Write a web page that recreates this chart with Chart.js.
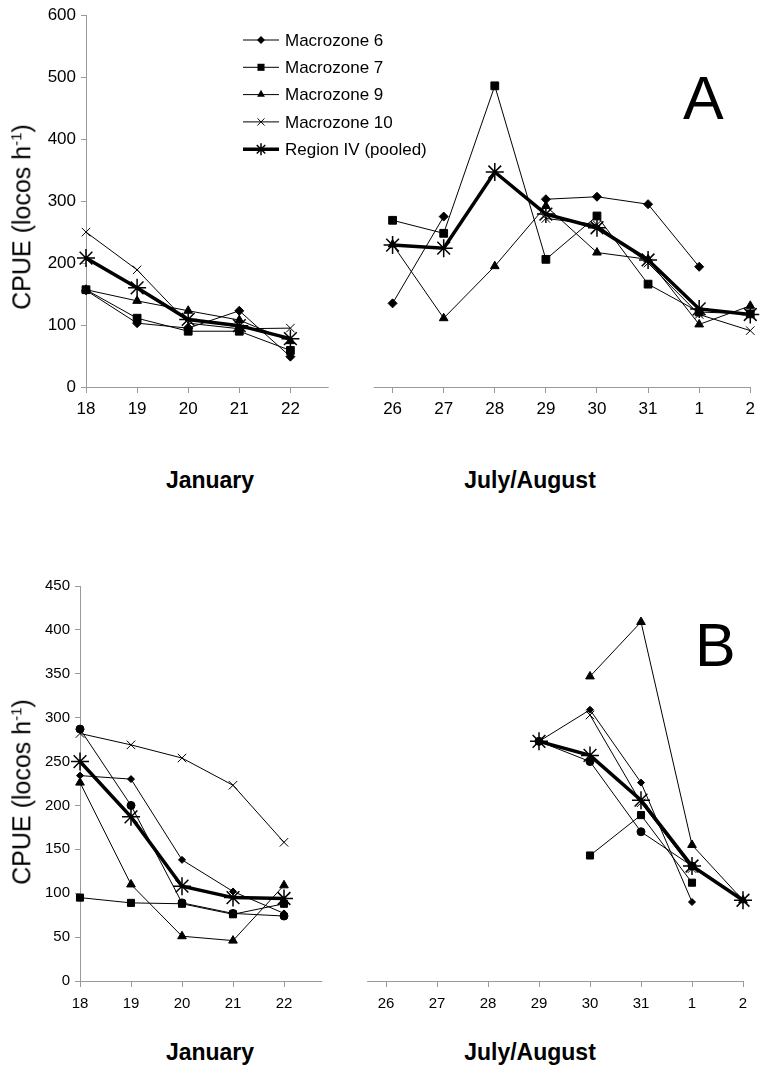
<!DOCTYPE html>
<html>
<head>
<meta charset="utf-8">
<script src="https://cdn.jsdelivr.net/npm/chart.js@4/dist/chart.umd.min.js"></script>
<style>
body { margin:0; background:#fff; width:761px; height:1081px; position:relative; overflow:hidden; font-family:"Liberation Sans", Arial, sans-serif; color:#000; }
.box { position:absolute; left:0; }
.ytitle { position:absolute; font-size:25px; white-space:nowrap; transform:translate(-50%,-50%) rotate(-90deg); }
.ytitle sup { font-size:15px; }
.month { position:absolute; font-weight:bold; font-size:23px; white-space:nowrap; transform:translate(-50%,-50%); }
.letter { position:absolute; font-size:61px; line-height:1; }
</style>
</head>
<body>

<div class="box" style="top:0"><canvas id="chartA" width="761" height="440"></canvas></div>
<div class="box" style="top:560px"><canvas id="chartB" width="761" height="470"></canvas></div>

<div class="ytitle" style="left:22px;top:217px">CPUE (locos h<sup>-1</sup>)</div>
<div class="ytitle" style="left:22px;top:792px">CPUE (locos h<sup>-1</sup>)</div>
<div class="month" style="left:210px;top:480px">January</div>
<div class="month" style="left:530px;top:480px">July/August</div>
<div class="month" style="left:210px;top:1052px">January</div>
<div class="month" style="left:530px;top:1052px">July/August</div>
<div class="letter" style="left:683px;top:68px">A</div>
<div class="letter" style="left:695px;top:615px">B</div>

<script>
// days: January 18-22, empty slot for the axis break, then July 26 - August 2
const days = ['18', '19', '20', '21', '22', '', '26', '27', '28', '29', '30', '31', '1', '2']

// panel A - macrozones
const mz6 = [156, 103, 95, 123, 49, null, 135, 275, null, 303, 307, 295, 194, null]
const mz7 = [157, 111, 90, 90, 59, null, 269, 248, 486, 206, 276, 166, 121, 118]
const mz9 = [157, 139, 123, 108, 74, null, 230, 111, 195, 292, 217, 206, 101, 131]
const mz10 = [250, 189, 103, 94, 95, null, null, null, null, 272, 262, 200, 117, 91]
const regionIV = [208, 160, 109, 99, 78, null, 229, 224, 347, 279, 257, 205, 126, 117]
const ticksA = [0, 100, 200, 300, 400, 500, 600]

// panel B - sites of macrozone 10
const huenta = [95, 89, 88, 76, 88, null, null, null, null, null, 143, 189, 112, null]
const totoral = [226, 110, 51, 46, 109, null, null, null, null, null, 347, 409, 155, 92]
const pichi = [282, 269, 254, 223, 158, null, null, null, null, null, 303, 203, 128, null]
const chigua = [234, 230, 138, 102, 77, null, null, null, null, 273, 309, 226, 90, null]
const vilos = [287, 200, 89, 77, 74, null, null, null, null, 273, 250, 170, 131, null]
const poolB = [250, 187, 108, 95, 94, null, null, null, null, 273, 257, 206, 131, 92]
const ticksB = [0, 50, 100, 150, 200, 250, 300, 350, 400, 450]

const FONT = '"Liberation Sans", Arial, sans-serif'
const AXIS = '#9a9a9a'

function marker(ctx, style, x, y, r) {
    ctx.beginPath()
    if (style === 'rect') {
        let s = r * Math.SQRT1_2
        ctx.rect(x - s, y - s, 2 * s, 2 * s)
        ctx.fill()
    } else if (style === 'rectRot') {
        ctx.moveTo(x - r, y); ctx.lineTo(x, y - r); ctx.lineTo(x + r, y); ctx.lineTo(x, y + r)
        ctx.closePath(); ctx.fill()
    } else if (style === 'triangle') {
        let a = 0
        ctx.moveTo(x + Math.sin(a) * r, y - Math.cos(a) * r * 1.1)
        a += Math.PI * 2 / 3
        ctx.lineTo(x + Math.sin(a) * r, y - Math.cos(a) * r)
        a += Math.PI * 2 / 3
        ctx.lineTo(x + Math.sin(a) * r, y - Math.cos(a) * r)
        ctx.closePath(); ctx.fill()
    } else if (style === 'circle') {
        ctx.arc(x, y, r, 0, Math.PI * 2); ctx.fill()
    } else if (style === 'crossRot') {
        let s = r * Math.SQRT1_2
        ctx.moveTo(x - s, y - s); ctx.lineTo(x + s, y + s)
        ctx.moveTo(x + s, y - s); ctx.lineTo(x - s, y + s)
        ctx.stroke()
    } else if (style === 'star') {
        let s = r * Math.SQRT1_2
        ctx.moveTo(x - s, y - s); ctx.lineTo(x + s, y + s)
        ctx.moveTo(x + s, y - s); ctx.lineTo(x - s, y + s)
        ctx.moveTo(x, y - r); ctx.lineTo(x, y + r)
        ctx.stroke()
    }
}

// x axis drawn in two pieces, plus the legend inside the plot
const decor = {
    id: 'decor',
    beforeDatasetsDraw(chart) {
        const sx = chart.scales.x
        const ctx = chart.ctx
        const x0 = sx.getPixelForTick(0)
        const step = sx.getPixelForTick(1) - x0
        const y = chart.chartArea.bottom + 0.5
        ctx.save()
        ctx.strokeStyle = AXIS
        ctx.lineWidth = 1
        ctx.beginPath()
        ctx.moveTo(x0, y); ctx.lineTo(x0 + 4.75 * step, y)
        ctx.moveTo(x0 + 5.63 * step, y); ctx.lineTo(chart.chartArea.right, y)
        ctx.stroke()
        ctx.restore()
    },
    afterDraw(chart, args, opts) {
        const ctx = chart.ctx
        ctx.save()
        ctx.font = opts.size + 'px ' + FONT
        ctx.textBaseline = 'middle'
        chart.data.datasets.forEach((ds, i) => {
            let y = opts.y + i * opts.gap
            ctx.strokeStyle = '#000'
            ctx.fillStyle = '#000'
            ctx.lineWidth = ds.borderWidth
            ctx.beginPath()
            ctx.moveTo(opts.x, y); ctx.lineTo(opts.x + opts.len, y)
            ctx.stroke()
            ctx.lineWidth = ds.pointBorderWidth
            marker(ctx, ds.pointStyle, opts.x + opts.len / 2, y, ds.legendRadius)
            ctx.fillText(ds.label, opts.x + opts.len + 6, y + 1)
        })
        ctx.restore()
    }
}

function line(label, data, style, r, legendR, thick) {
    return {
        label: label,
        data: data,
        borderColor: '#000',
        backgroundColor: '#000',
        borderWidth: thick ? 3.5 : 1,
        pointStyle: style,
        pointRadius: r,
        pointBorderWidth: thick ? 1.5 : 1,
        pointBorderColor: '#000',
        pointBackgroundColor: '#000',
        legendRadius: legendR,
        order: thick ? 0 : 1,
        spanGaps: false,
        clip: false,
        tension: 0
    }
}

function makeChart(id, datasets, yTicks, o) {
    new Chart(document.getElementById(id), {
        type: 'line',
        data: { labels: days, datasets: datasets },
        options: {
            responsive: false,
            animation: false,
            devicePixelRatio: 1,
            layout: { padding: { top: o.top, right: o.right, left: 0, bottom: 0 } },
            plugins: {
                legend: { display: false },
                tooltip: { enabled: false },
                decor: o.legend
            },
            scales: {
                x: {
                    offset: false,
                    border: { display: false },
                    grid: {
                        drawOnChartArea: false,
                        drawTicks: true,
                        tickLength: 6,
                        color: AXIS,
                        tickColor: (c) => days[c.index] === '' ? 'rgba(0,0,0,0)' : AXIS
                    },
                    ticks: {
                        autoSkip: false, maxRotation: 0, padding: o.xPad,
                        color: '#000', font: { family: FONT, size: o.xSize }
                    },
                    afterFit: (s) => { s.height = o.xHeight }
                },
                y: {
                    min: yTicks[0],
                    max: yTicks[yTicks.length - 1],
                    border: { display: true, color: AXIS, width: 1 },
                    grid: { drawOnChartArea: false, drawTicks: true, tickLength: 5, color: AXIS },
                    ticks: {
                        stepSize: yTicks[1] - yTicks[0], padding: 5,
                        color: '#000', font: { family: FONT, size: o.ySize }
                    },
                    afterFit: (s) => { s.width = o.yWidth }
                }
            }
        },
        plugins: [decor]
    })
}

makeChart('chartA', [
    line('Macrozone 6', mz6, 'rectRot', 4.5, 4, false),
    line('Macrozone 7', mz7, 'rect', 5.5, 5, false),
    line('Macrozone 9', mz9, 'triangle', 5, 4.5, false),
    line('Macrozone 10', mz10, 'crossRot', 6, 5, false),
    line('Region IV (pooled)', regionIV, 'star', 9, 6, true)
], ticksA, {
    top: 15, right: 9, yWidth: 86, xHeight: 53, xPad: 6, xSize: 17, ySize: 17,
    legend: { x: 243, y: 40, gap: 27.3, len: 36, size: 17 }
})

makeChart('chartB', [
    line('Huentalauquen', huenta, 'rect', 5, 4.5, false),
    line('Totoralillo Sur', totoral, 'triangle', 5, 4.5, false),
    line('Pichidangui', pichi, 'crossRot', 6, 5, false),
    line('Chigualoco', chigua, 'rectRot', 3.5, 3.5, false),
    line('Los Vilos', vilos, 'circle', 4, 4, false),
    line('Macrozone 10 (pool)', poolB, 'star', 9, 6, true)
], ticksB, {
    top: 26, right: 18, yWidth: 80, xHeight: 49, xPad: 8, xSize: 15, ySize: 15,
    legend: { x: 257, y: 594, gap: 25.2, len: 33, size: 15 }
})
</script>
</body>
</html>
